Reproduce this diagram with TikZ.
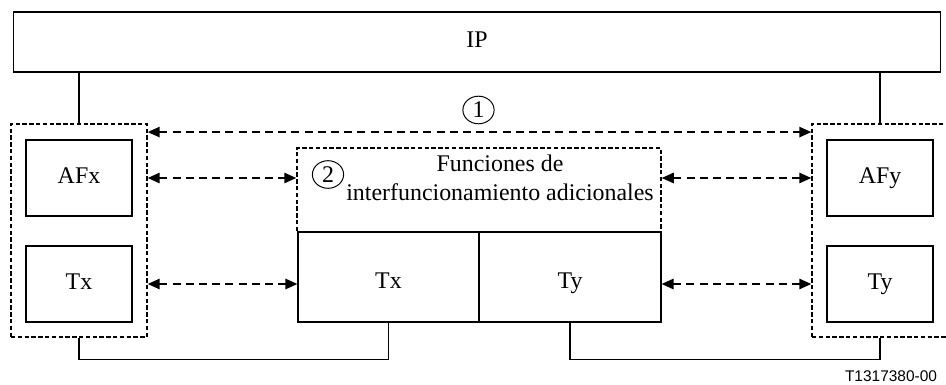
\documentclass[tikz,border=0pt]{standalone}
\usepackage{fontspec}
\setmainfont{Liberation Serif}
\newfontfamily\labelfont{Liberation Sans}
\usetikzlibrary{arrows.meta,shapes.geometric}

\tikzset{
  blk/.style={draw,line width=0.8pt,inner sep=0pt,text height=2.2ex,text depth=0.6ex},
  grp/.style={draw,line width=1pt,dash pattern=on 1.1mm off 0.6mm,inner sep=0pt},
  arr/.style={line width=1.2pt,dash pattern=on 2mm off 1.3mm,{Triangle[length=3mm,width=2.6mm]}-{Triangle[length=3mm,width=2.6mm]}},
  num/.style={draw,ellipse,line width=0.7pt,minimum width=0.78cm,minimum height=0.69cm,inner sep=0pt}
}

\begin{document}
\begin{tikzpicture}[x=0.025cm,y=-0.025cm,font=\fontsize{17}{20.6}\selectfont]
        \clip (0,0) rectangle (946,385);
        \useasboundingbox (0,0) rectangle (946,385);

        \node[blk,minimum width=23.15cm,minimum height=1.5cm] (ip) at (477,42) {IP};

        \node[grp,minimum width=3.4cm,minimum height=5.325cm] (lgrp) at (79,230.5) {};
        \node[grp,minimum width=3.4cm,minimum height=5.325cm] (rgrp) at (880,230.5) {};
        \node[blk,minimum width=2.65cm,minimum height=1.9cm] (afx) at (79,178) {AFx};
        \node[blk,minimum width=2.65cm,minimum height=1.9cm] (tx1) at (79,284) {Tx};
        \node[blk,minimum width=2.65cm,minimum height=1.9cm] (afy) at (880,178) {AFy};
        \node[blk,minimum width=2.65cm,minimum height=1.9cm] (ty1) at (880,284) {Ty};

        \node[grp,minimum width=9.1cm,minimum height=2.1cm] (fx) at (479,190) {};
        \node[blk,text height=4.2ex,minimum width=4.525cm,minimum height=2.25cm] (tx2) at (388.5,277) {Tx};
        \node[blk,text height=4.2ex,minimum width=4.55cm,minimum height=2.25cm] (ty2) at (570,277) {Ty};
        \node[align=center] (fxt) at (500,178) {Funciones de\\interfuncionamiento adicionales};

        \node[num] (n1) at (478.5,110) {1};
        \node[num] (n2) at (328,174.5) {2};

        \node[anchor=east,font=\labelfont\fontsize{11}{13}\selectfont] (ref) at (942,376) {T1317380-00};

        % links to IP and bottom buses
        \draw[line width=0.8pt] (lgrp.north) -- (lgrp.north |- ip.south);
        \draw[line width=0.8pt] (rgrp.north) -- (rgrp.north |- ip.south);
        \draw[line width=0.8pt] (tx2.south) -- ++(0,37) -| (lgrp.south);
        \draw[line width=0.8pt] (ty2.south) -- ++(0,37) -| (rgrp.south);

        % arrows
        \draw[arr] ([yshift=-0.22cm]lgrp.north east) -- ([yshift=-0.22cm]rgrp.north west);
        \draw[arr] (lgrp.east |- afx) -- (fx.west |- afx);
        \draw[arr] (fx.east |- afy) -- (rgrp.west |- afy);
        \draw[arr] (lgrp.east |- tx1) -- (tx2.west |- tx1);
        \draw[arr] (ty2.east |- ty1) -- (rgrp.west |- ty1);
\end{tikzpicture}
\end{document}
